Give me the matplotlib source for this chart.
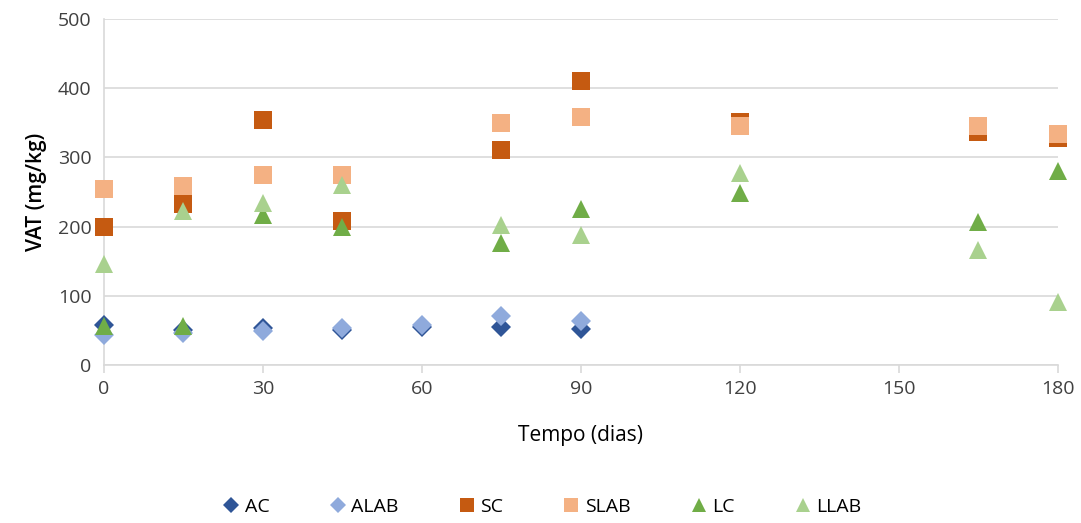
import matplotlib
matplotlib.use("Agg")
from matplotlib import pyplot as plt

# tempo (dias)
dias_a = [0, 15, 30, 45, 60, 75, 90]
dias = [0, 15, 30, 45, 75, 90, 120, 165, 180]

# VAT (mg/kg) por tratamento
AC = [58, 50, 54, 51, 55, 55, 52]
ALAB = [43, 47, 49, 53, 58, 71, 63]
SC = [200, 232, 354, 208, 311, 410, 351, 336, 328]
SLAB = [254, 258, 274, 275, 349, 359, 346, 345, 334]
LC = [57, 57, 217, 200, 177, 226, 248, 207, 280]
LLAB = [146, 222, 234, 260, 202, 188, 278, 166, 91]

series = [
    ("AC", dias_a, AC, "D", "#2F5597", 10),
    ("ALAB", dias_a, ALAB, "D", "#8FAADC", 10),
    ("SC", dias, SC, "s", "#C55A11", 13),
    ("SLAB", dias, SLAB, "s", "#F4B183", 13),
    ("LC", dias, LC, "^", "#70AD47", 13),
    ("LLAB", dias, LLAB, "^", "#A9D18E", 13),
]

plt.rcParams['font.family'] = ['Open Sans', 'DejaVu Sans']

fig = plt.figure(figsize=(10.81, 5.23), dpi=100)
ax = fig.add_axes([0.0962, 0.302, 0.8825, 0.6617])

for name, xs, ys, mk, col, ms in series:
    ax.plot(xs, ys, linestyle="none", marker=mk, color=col, markersize=ms,
            markeredgewidth=0, label=name, clip_on=False, zorder=3)

ax.set_xlim(0, 180)
ax.set_ylim(0, 500)
ax.set_xticks(range(0, 181, 30))
ax.set_yticks(range(0, 501, 100))
ax.grid(axis="y", color="#D9D9D9", linewidth=1.2)
ax.set_axisbelow(True)

for s in ["top", "right"]:
    ax.spines[s].set_visible(False)
ax.spines["left"].set_color("#D9D9D9")
ax.spines["bottom"].set_color("#D9D9D9")
ax.spines["left"].set_linewidth(1.2)
ax.spines["bottom"].set_linewidth(1.2)
ax.tick_params(axis="y", length=0, pad=9, labelsize=14, labelcolor="#404040")
ax.tick_params(axis="x", length=6, color="#D9D9D9", width=1.2, pad=5,
               labelsize=14, labelcolor="#404040")

ax.set_xlabel("Tempo (dias)", fontsize=15, labelpad=19)
ax.set_ylabel("VAT (mg/kg)", fontsize=15, fontweight="semibold", labelpad=8)

fig.legend(loc="lower center", ncol=6, frameon=False, fontsize=14,
           bbox_to_anchor=(0.5, -0.02), columnspacing=2.9, handletextpad=0.1,
           handlelength=1.2, markerscale=0.8)

fig.savefig("out.png", dpi=100)
